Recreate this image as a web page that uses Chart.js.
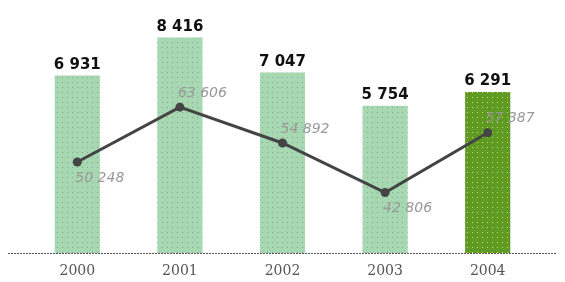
<!DOCTYPE html>
<html>
<head>
<meta charset="utf-8">
<script src="https://cdn.jsdelivr.net/npm/chart.js@4/dist/chart.umd.min.js"></script>
<style>
  html, body { margin: 0; padding: 0; background: #fff; }
  #wrap { width: 565px; height: 282px; position: relative; }
</style>
</head>
<body>
<div id="wrap"><canvas id="salesChart" width="565" height="282"></canvas></div>
<script>
const years = ["2000", "2001", "2002", "2003", "2004"];
const barValues = [6931, 8416, 7047, 5754, 6291];
const lineValues = [50248, 63606, 54892, 42806, 57387];

// dotted fill like the printed original
function dotPattern(base, dot) {
  const c = document.createElement("canvas");
  c.width = 5; c.height = 5;
  const g = c.getContext("2d");
  g.fillStyle = base;
  g.fillRect(0, 0, 5, 5);
  g.fillStyle = dot;
  g.fillRect(2, 2, 1, 1);
  return g.createPattern(c, "repeat");
}
const lightFill = dotPattern("#a6d9b2", "#9a9a9a");
const darkFill = dotPattern("#5f9a25", "#c8e64a");
const barFills = barValues.map((v, i) => (i === barValues.length - 1 ? darkFill : lightFill));

function fmt(n) {
  return String(n).replace(/\B(?=(\d{3})+(?!\d))/g, " ");
}

const labelPlugin = {
  id: "labels",
  afterDatasetsDraw(chart) {
    const ctx = chart.ctx;
    const xs = chart.scales.x;
    const base = chart.scales.y.getPixelForValue(0);
    ctx.save();
    // dotted baseline
    ctx.strokeStyle = "#555";
    ctx.lineWidth = 1;
    ctx.setLineDash([2, 1]);
    ctx.beginPath();
    ctx.moveTo(8, base + 0.5);
    ctx.lineTo(557, base + 0.5);
    ctx.stroke();
    ctx.setLineDash([]);

    // values above bars
    const bars = chart.getDatasetMeta(0).data;
    ctx.fillStyle = "#111";
    ctx.font = "bold 15px 'DejaVu Sans', sans-serif";
    ctx.textAlign = "center";
    ctx.textBaseline = "bottom";
    bars.forEach((b, i) => ctx.fillText(fmt(barValues[i]), b.x, b.y - 3));

    // line values
    const pts = chart.getDatasetMeta(1).data;
    const below = [true, false, false, true, false];
    ctx.fillStyle = "#999";
    ctx.font = "oblique 14px 'DejaVu Sans', sans-serif";
    ctx.textAlign = "left";
    ctx.textBaseline = "middle";
    pts.forEach((p, i) => {
      ctx.fillText(fmt(lineValues[i]), p.x - 2, p.y + (below[i] ? 16 : -14));
    });

    // year labels
    ctx.fillStyle = "#555";
    ctx.font = "14px 'DejaVu Serif', serif";
    ctx.textAlign = "center";
    years.forEach((y, i) => ctx.fillText(y, xs.getPixelForValue(i), base + 18));
    ctx.restore();
  }
};

new Chart(document.getElementById("salesChart").getContext("2d"), {
  type: "bar",
  data: {
    labels: years,
    datasets: [
      {
        type: "bar",
        data: barValues,
        backgroundColor: barFills,
        borderWidth: 0,
        yAxisID: "y",
        categoryPercentage: 1,
        barPercentage: 0.44,
        order: 2,
      },
      {
        type: "line",
        data: lineValues,
        borderColor: "#444",
        borderWidth: 3,
        pointRadius: 4.5,
        pointBackgroundColor: "#444",
        pointBorderWidth: 0,
        tension: 0,
        yAxisID: "y1",
        order: 1,
      },
    ],
  },
  options: {
    responsive: false,
    animation: false,
    events: [],
    layout: { padding: { left: 26, right: 26, top: 20, bottom: 29 } },
    plugins: { legend: { display: false }, tooltip: { enabled: false } },
    scales: {
      x: { display: false },
      y: { display: false, min: 0, max: 9100 },
      y1: { display: false, min: 28100, max: 84830, position: "right" },
    },
  },
  plugins: [labelPlugin],
});
</script>
</body>
</html>
